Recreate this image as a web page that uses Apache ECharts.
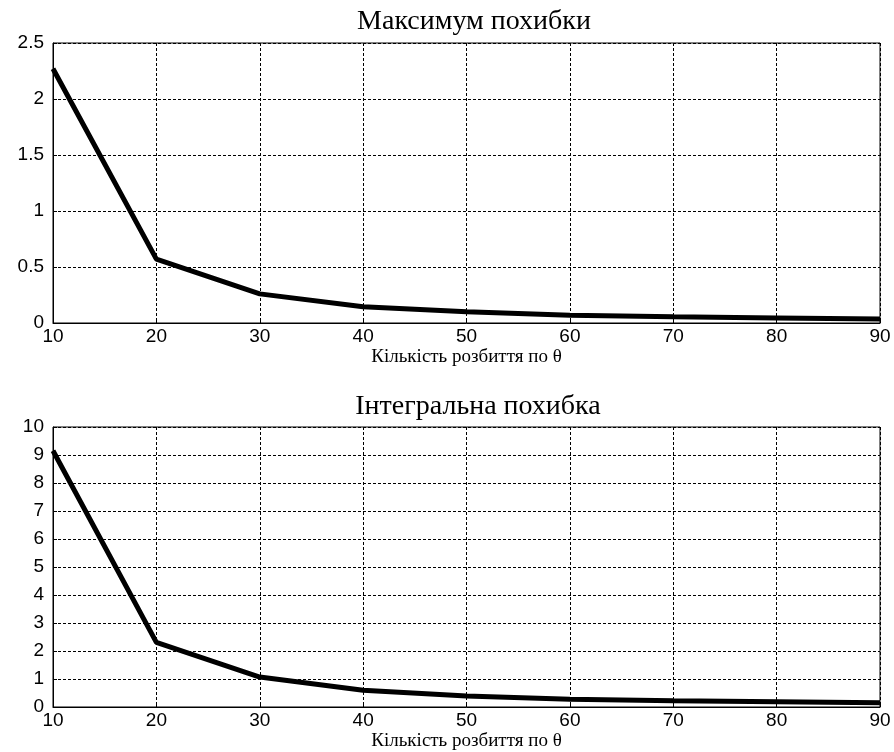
<!DOCTYPE html>
<html><head><meta charset="utf-8">
<script src="https://cdn.jsdelivr.net/npm/echarts@6/dist/echarts.min.js"></script>
<style>html,body{margin:0;padding:0;background:#fff}#c{width:894px;height:752px}</style>
</head><body><div id="c"></div>
<script>
const xValues = [10, 20, 30, 40, 50, 60, 70, 80, 90];
const maxError = [2.27, 0.57, 0.26, 0.145, 0.10, 0.07, 0.055, 0.045, 0.035];
const integralError = [9.15, 2.31, 1.07, 0.60, 0.39, 0.28, 0.22, 0.19, 0.15];
const title1 = 'Максимум похибки';
const title2 = 'Інтегральна похибка';
const xName = 'Кількість розбиття по θ';

const chart = echarts.init(document.getElementById('c'));
const serif = '"Liberation Serif", "DejaVu Serif", serif';
const sans = '"Liberation Sans", Arial, sans-serif';
function xAxis(idx){
  return {
    type:'value', gridIndex: idx, min:10, max:90, interval:10,
    name: xName, nameLocation:'middle', nameGap: 25,
    nameTextStyle:{fontFamily: serif, fontSize:19, color:'#000'},
    axisLine:{show:true, lineStyle:{color:'#000', width:1}},
    axisTick:{show:true, inside:true, length:4, lineStyle:{color:'#000'}},
    axisLabel:{fontFamily: sans, fontSize:19, color:'#000', margin:4},
    splitLine:{show:true, lineStyle:{color:'#000', type:[3,2], width:1}}
  };
}
function yAxis(idx, max, interval){
  return {
    type:'value', gridIndex: idx, min:0, max:max, interval:interval,
    axisLine:{show:true, lineStyle:{color:'#000', width:1}},
    axisTick:{show:true, inside:true, length:4, lineStyle:{color:'#000'}},
    axisLabel:{fontFamily: sans, fontSize:19, color:'#000', margin:9},
    splitLine:{show:true, lineStyle:{color:'#000', type:[3,2], width:1}}
  };
}
chart.setOption({
  animation:false,
  backgroundColor:'#fff',
  title:[
    {text:title1, left:469, top:3, textAlign:'center', textStyle:{fontFamily:serif, fontSize:28, fontWeight:'normal', color:'#000'}},
    {text:title2, left:473, top:388, textAlign:'center', textStyle:{fontFamily:serif, fontSize:28, fontWeight:'normal', color:'#000'}}
  ],
  grid:[
    {left:53, right:14, top:43, height:280, show:true, borderColor:'#000', borderWidth:1, backgroundColor:'#fff'},
    {left:53, right:14, top:427, height:281, show:true, borderColor:'#000', borderWidth:1, backgroundColor:'#fff'}
  ],
  xAxis:[xAxis(0), xAxis(1)],
  yAxis:[yAxis(0, 2.5, 0.5), yAxis(1, 10, 1)],
  series:[
    {type:'line', xAxisIndex:0, yAxisIndex:0, data: xValues.map((x,i)=>[x, maxError[i]]), showSymbol:false, lineStyle:{color:'#000', width:5}, z:5},
    {type:'line', xAxisIndex:1, yAxisIndex:1, data: xValues.map((x,i)=>[x, integralError[i]]), showSymbol:false, lineStyle:{color:'#000', width:5}, z:5}
  ]
});
</script></body></html>
